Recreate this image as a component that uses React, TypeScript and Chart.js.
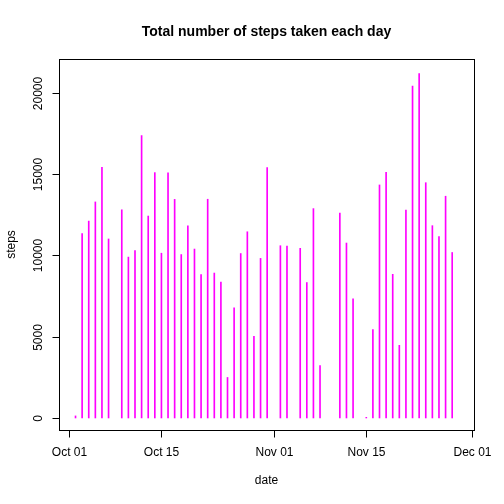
import React, { useEffect, useRef } from "react";
import { Chart, registerables } from "chart.js";

Chart.register(...registerables);

// day offset from Oct 01 2012, total steps (days with NA omitted)
const days = [1,2,3,4,5,6,8,9,10,11,12,13,14,15,16,17,18,19,20,21,22,23,24,25,26,27,28,29,30,32,33,35,36,37,38,41,42,43,45,46,47,48,49,50,51,52,53,54,55,56,57,58];
const steps = [126,11352,12116,13294,15420,11015,12811,9900,10304,17382,12426,15098,10139,15084,13452,10056,11829,10395,8821,13460,8918,8355,2492,6778,10119,11458,5018,9819,15414,10600,10571,10439,8334,12883,3219,12608,10765,7336,41,5441,14339,15110,8841,4472,12787,20427,21194,14478,11834,11162,13646,10183,7047];
const xTickValues = [0, 14, 31, 45, 61];
const xTickLabels = ["Oct 01", "Oct 15", "Nov 01", "Nov 15", "Dec 01"];
const yTickValues = [0, 5000, 10000, 15000, 20000];

const FONT = '"Liberation Sans", Arial, sans-serif';

const rAxes = {
  id: "rAxes",
  afterDraw(chart: any) {
    const ctx = chart.ctx;
    const { left, right, top, bottom } = chart.chartArea;
    const xs = chart.scales.x;
    const ys = chart.scales.y;
    ctx.save();
    ctx.strokeStyle = "#000";
    ctx.lineWidth = 1;
    ctx.strokeRect(Math.round(left) + 0.5, Math.round(top) + 0.5, Math.round(right - left), Math.round(bottom - top));
    ctx.fillStyle = "#000";
    ctx.font = `12px ${FONT}`;
    ctx.textAlign = "center";
    ctx.textBaseline = "middle";
    const b = Math.round(bottom) + 0.5;
    const l = Math.round(left) + 0.5;
    const xPix = xTickValues.map((v) => Math.round(xs.getPixelForValue(v)) + 0.5);
    ctx.beginPath();
    xPix.forEach((p, i) => {
      ctx.moveTo(p, b);
      ctx.lineTo(p, b + 7);
      ctx.fillText(xTickLabels[i], p, b + 22);
    });
    ctx.stroke();
    const yPix = yTickValues.map((v) => Math.round(ys.getPixelForValue(v)) + 0.5);
    ctx.beginPath();
    yPix.forEach((p, i) => {
      ctx.moveTo(l, p);
      ctx.lineTo(l - 7, p);
      ctx.save();
      ctx.translate(l - 21, p);
      ctx.rotate(-Math.PI / 2);
      ctx.fillText(String(yTickValues[i]), 0, 0);
      ctx.restore();
    });
    ctx.stroke();
    ctx.fillText("date", (left + right) / 2, 481);
    ctx.save();
    ctx.translate(12, (top + bottom) / 2);
    ctx.rotate(-Math.PI / 2);
    ctx.fillText("steps", 0, 0);
    ctx.restore();
    ctx.font = `bold 14px ${FONT}`;
    ctx.fillText("Total number of steps taken each day", (left + right) / 2, 32);
    ctx.restore();
  },
};

export default function App() {
  const ref = useRef<HTMLCanvasElement>(null);
  useEffect(() => {
    document.body.style.margin = "0";
    const chart = new Chart(ref.current!, {
      type: "bar",
      data: {
        datasets: [{
          data: days.map((d, i) => ({ x: d, y: steps[i] })),
          backgroundColor: "#ff00ff",
          barThickness: 1,
        }],
      },
      options: {
        animation: false,
        responsive: false,
        layout: { padding: { top: 59, left: 59, right: 30, bottom: 74 } },
        plugins: { legend: { display: false }, tooltip: { enabled: false } },
        scales: {
          x: { type: "linear", display: false, offset: false, grid: { offset: false }, min: -1.5, max: 61.3 },
          y: { display: false, min: -740, max: 22090 },
        },
      },
      plugins: [rAxes],
    });
    return () => chart.destroy();
  }, []);
  return <canvas ref={ref} width={504} height={504} />;
}
